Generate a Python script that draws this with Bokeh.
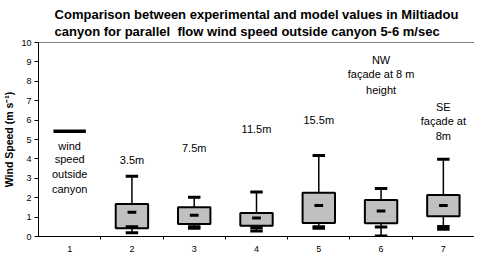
from bokeh.plotting import figure
from bokeh.models import Range1d, FixedTicker, Span, Label
from bokeh.embed import file_html
from bokeh.resources import INLINE

# ---- data ----
categories = [2, 3, 4, 5, 6, 7]
whisker_max = [3.10, 2.02, 2.30, 4.18, 2.47, 3.98]
q3 = [1.68, 1.51, 1.21, 2.26, 1.88, 2.14]
median = [1.25, 1.09, 0.95, 1.60, 1.32, 1.60]
q1 = [0.42, 0.65, 0.55, 0.69, 0.68, 1.04]
lower_mark = [0.50, 0.50, 0.45, 0.50, 0.49, 0.52]
whisker_min = [0.19, 0.42, 0.28, 0.42, 0.02, 0.37]

outside_cat = [1]
outside_speed = [5.42]

x_tick_labels = ["1", "2", "3", "4", "5", "6", "7"]
y_ticks = list(range(0, 11))

title_text = ("Comparison between experimental and model values in Miltiadou\n"
              "canyon for parallel\u00a0 flow wind speed outside canyon 5-6 m/sec")
y_label = "Wind Speed (m s\u207b\u00b9)"

FONT = "Liberation Sans"

p = figure(width=474, height=254, output_backend="svg", toolbar_location=None,
           x_range=Range1d(0.5, 7.5), y_range=Range1d(0, 10),
           min_border_left=34, min_border_right=0, min_border_top=42, min_border_bottom=17)
p.background_fill_color = "white"
p.border_fill_color = "white"
p.outline_line_color = None
p.xgrid.visible = False
p.ygrid.visible = False

# title
p.title.text = title_text
p.title.align = "center"
p.title.text_font = FONT
p.title.text_font_size = "13px"
p.title.text_font_style = "bold"
p.title.text_color = "black"
p.title.text_line_height = 1.15
p.title.standoff = 7

# y axis
p.yaxis.ticker = FixedTicker(ticks=y_ticks)
p.yaxis.major_tick_out = 4
p.yaxis.major_tick_in = 0
p.yaxis.minor_tick_out = 0
p.yaxis.minor_tick_in = 0
p.yaxis.major_label_standoff = 3
p.yaxis.major_label_text_font = FONT
p.yaxis.major_label_text_font_size = "9px"
p.yaxis.major_label_text_color = "black"
p.yaxis.axis_line_color = "black"
p.yaxis.major_tick_line_color = "black"
p.yaxis.axis_label = y_label
p.yaxis.axis_label_text_font = FONT
p.yaxis.axis_label_text_font_size = "10.5px"
p.yaxis.axis_label_text_font_style = "bold"
p.yaxis.axis_label_text_color = "black"
p.yaxis.axis_label_standoff = 3

# x axis
p.xaxis.ticker = FixedTicker(ticks=[1, 2, 3, 4, 5, 6, 7],
                             minor_ticks=[1.5, 2.5, 3.5, 4.5, 5.5, 6.5])
p.xaxis.major_label_overrides = {i + 1: t for i, t in enumerate(x_tick_labels)}
p.xaxis.major_tick_out = 0
p.xaxis.major_tick_in = 0
p.xaxis.minor_tick_out = 3
p.xaxis.minor_tick_in = 0
p.xaxis.minor_tick_line_color = "black"
p.xaxis.major_label_standoff = 6
p.xaxis.major_label_text_font = FONT
p.xaxis.major_label_text_font_size = "9px"
p.xaxis.major_label_text_color = "black"
p.xaxis.axis_line_color = "black"

# top border
p.add_layout(Span(location=10, dimension="width", line_color="black", line_width=1))

# whisker stems
p.segment(x0=categories, y0=whisker_min, x1=categories, y1=whisker_max,
          line_color="black", line_width=1.5)
# boxes
p.vbar(x=categories, top=q3, bottom=q1, width=0.52, fill_color="#c0c0c0",
       line_color="black", line_width=2)
# caps
cx0 = [c - 0.1 for c in categories]
cx1 = [c + 0.1 for c in categories]
p.segment(x0=cx0, y0=whisker_max, x1=cx1, y1=whisker_max, line_color="black", line_width=3)
p.segment(x0=cx0, y0=whisker_min, x1=cx1, y1=whisker_min, line_color="black", line_width=3)
p.segment(x0=cx0, y0=lower_mark, x1=cx1, y1=lower_mark, line_color="black", line_width=3)
# medians
mx0 = [c - 0.07 for c in categories]
mx1 = [c + 0.07 for c in categories]
p.segment(x0=mx0, y0=median, x1=mx1, y1=median, line_color="black", line_width=3)

# outside wind speed
p.segment(x0=[c - 0.26 for c in outside_cat], y0=outside_speed,
          x1=[c + 0.26 for c in outside_cat], y1=outside_speed,
          line_color="black", line_width=3.5)

# annotations
notes = [
    (1, 4.69, "wind"), (1, 3.98, "speed"), (1, 3.21, "outside"), (1, 2.45, "canyon"),
    (2, 3.93, "3.5m"), (3, 4.58, "7.5m"), (4, 5.56, "11.5m"), (5, 5.98, "15.5m"),
    (6, 9.12, "NW"), (6, 8.37, "fa\u00e7ade at 8 m"), (6, 7.55, "height"),
    (7, 6.67, "SE"), (7, 5.97, "fa\u00e7ade at"), (7, 5.17, "8m"),
]
for x, y, t in notes:
    p.add_layout(Label(x=x, y=y, text=t, text_align="center", text_baseline="middle",
                       text_font=FONT, text_font_size="11px", text_color="black"))

open("out.html", "w").write(file_html(p, INLINE))
